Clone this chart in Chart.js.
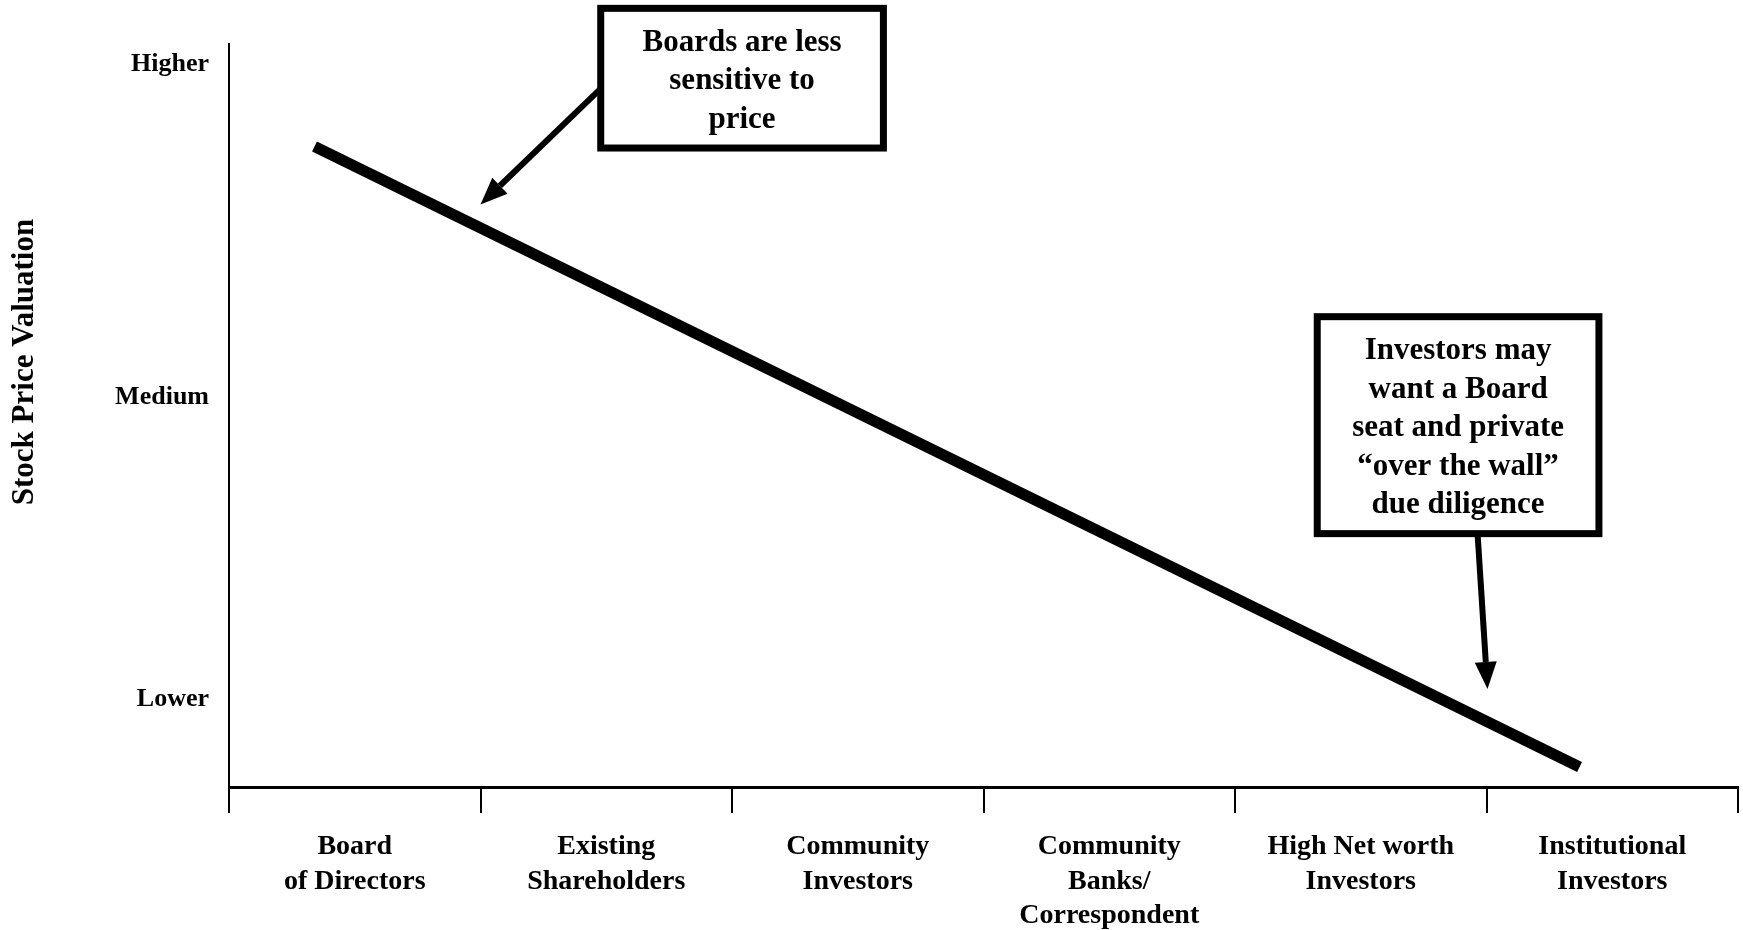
<!DOCTYPE html>
<html>
<head>
<meta charset="utf-8">
<title>Stock Price Valuation</title>
<script src="https://cdn.jsdelivr.net/npm/chart.js"></script>
<style>
  html, body { margin: 0; padding: 0; background: #fff; }
  #wrap { width: 1743px; height: 930px; position: relative; }
</style>
</head>
<body>
<div id="wrap"><canvas id="mainChart"></canvas></div>
<script>
// categories on the x axis (multi line labels)
var categories = [
  ["Board", "of Directors"],
  ["Existing", "Shareholders"],
  ["Community", "Investors"],
  ["Community", "Banks/", "Correspondent"],
  ["High Net worth", "Investors"],
  ["Institutional", "Investors"]
];

// y tick labels and where they sit on a 0-100 scale
var yTickLabels = ["Lower", "Medium", "Higher"];
var yTickValues = [11.8, 52.4, 97.3];

// the valuation line, x in category units (0-6), y on the 0-100 scale
var lineX = [0.34, 5.37];
var lineY = [86.2, 2.7];

var yTitle = "Stock Price Valuation";

// callout boxes and their arrows, in data units
var callouts = [
  {
    lines: ["Boards are less", "sensitive to", "price"],
    box: { x1: 1.478, x2: 2.602, y1: 104.8, y2: 86.0 },
    from: { x: 1.478, y: 94.0 },
    to: { x: 1.0, y: 78.4 }
  },
  {
    lines: ["Investors may", "want a Board", "seat and private", "\u201cover the wall\u201d", "due diligence"],
    box: { x1: 4.327, x2: 5.447, y1: 63.3, y2: 34.1 },
    from: { x: 4.965, y: 33.8 },
    to: { x: 5.004, y: 13.2 }
  }
];

var serif = '"Liberation Serif", "Times New Roman", serif';

function drawArrow(ctx, x1, y1, x2, y2) {
  var head = 27, half = 11;
  var ang = Math.atan2(y2 - y1, x2 - x1);
  var bx = x2 - head * Math.cos(ang);
  var by = y2 - head * Math.sin(ang);
  ctx.lineWidth = 6;
  ctx.beginPath();
  ctx.moveTo(x1, y1);
  ctx.lineTo(bx, by);
  ctx.stroke();
  ctx.beginPath();
  ctx.moveTo(x2, y2);
  ctx.lineTo(bx + half * Math.sin(ang), by - half * Math.cos(ang));
  ctx.lineTo(bx - half * Math.sin(ang), by + half * Math.cos(ang));
  ctx.closePath();
  ctx.fill();
}

// draws the y title and the callouts on top of the chart
var calloutPlugin = {
  id: "callouts",
  afterDraw: function (chart) {
    var ctx = chart.ctx;
    var xs = chart.scales.xl;
    var ys = chart.scales.y;
    ctx.save();
    ctx.fillStyle = "#000";
    ctx.strokeStyle = "#000";

    // y axis title, a bit above the middle like in the original
    ctx.save();
    ctx.translate(chart.chartArea.left - 204.5, ys.getPixelForValue(57.2));
    ctx.rotate(-Math.PI / 2);
    ctx.font = "bold 31px " + serif;
    ctx.textAlign = "center";
    ctx.textBaseline = "middle";
    ctx.fillText(yTitle, 0, 0);
    ctx.restore();

    callouts.forEach(function (c) {
      drawArrow(ctx,
        xs.getPixelForValue(c.from.x), ys.getPixelForValue(c.from.y),
        xs.getPixelForValue(c.to.x), ys.getPixelForValue(c.to.y));

      var left = xs.getPixelForValue(c.box.x1);
      var right = xs.getPixelForValue(c.box.x2);
      var top = ys.getPixelForValue(c.box.y1);
      var bottom = ys.getPixelForValue(c.box.y2);
      ctx.fillStyle = "#fff";
      ctx.fillRect(left, top, right - left, bottom - top);
      ctx.lineWidth = 7;
      ctx.strokeRect(left, top, right - left, bottom - top);

      ctx.fillStyle = "#000";
      ctx.font = "bold 31px " + serif;
      ctx.textAlign = "center";
      ctx.textBaseline = "middle";
      var lh = 38.5;
      var cy = (top + bottom) / 2 - (c.lines.length - 1) * lh / 2 + 3;
      c.lines.forEach(function (t, i) {
        ctx.fillText(t, (left + right) / 2, cy + i * lh);
      });
    });
    ctx.restore();
  }
};

var chartData = {
  labels: categories,
  datasets: [
    {
      label: "Valuation",
      data: lineX.map(function (x, i) { return { x: x, y: lineY[i] }; }),
      xAxisID: "xl",
      yAxisID: "y",
      borderColor: "#000",
      borderWidth: 11,
      borderCapStyle: "butt",
      pointRadius: 0,
      tension: 0,
      clip: false
    }
  ]
};

var options = {
  responsive: true,
  maintainAspectRatio: false,
  animation: false,
  layout: { padding: { top: 44, right: 5, bottom: 0, left: 0 } },
  plugins: {
    legend: { display: false },
    tooltip: { enabled: false }
  },
  scales: {
    x: {
      type: "category",
      offset: true,
      grid: {
        offset: true,
        drawOnChartArea: false,
        drawTicks: true,
        tickLength: 26,
        color: "#000",
        lineWidth: 2
      },
      border: { color: "#000", width: 3 },
      ticks: {
        color: "#000",
        padding: 17,
        maxRotation: 0,
        autoSkip: false,
        font: { family: serif, size: 28, weight: "bold", lineHeight: 1.23 }
      },
      afterFit: function (scale) { scale.height = 143; }
    },
    xl: {
      type: "linear",
      min: 0,
      max: 6,
      display: false
    },
    y: {
      type: "linear",
      min: 0,
      max: 100,
      grid: { display: false, drawTicks: false },
      border: { color: "#000", width: 2 },
      afterBuildTicks: function (scale) {
        scale.ticks = yTickValues.map(function (v) { return { value: v }; });
      },
      ticks: {
        color: "#000",
        padding: 20,
        font: { family: serif, size: 26, weight: "bold" },
        callback: function (value, index) { return yTickLabels[index]; }
      },
      afterFit: function (scale) { scale.width = 229; }
    }
  }
};

var ctx = document.getElementById("mainChart").getContext("2d");
var myChart = new Chart(ctx, {
  type: "line",
  data: chartData,
  options: options,
  plugins: [calloutPlugin]
});
</script>
</body>
</html>
